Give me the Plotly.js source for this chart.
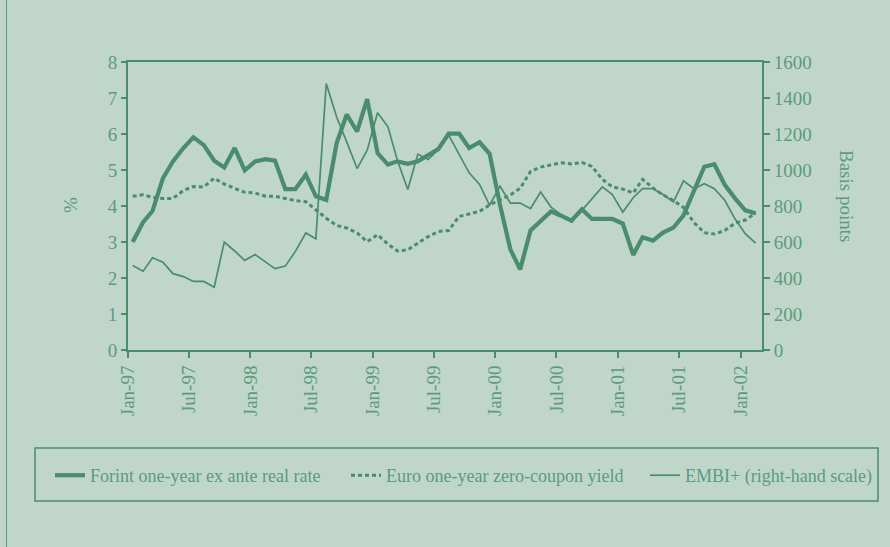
<!DOCTYPE html>
<html>
<head>
<meta charset="utf-8">
<script src="https://cdn.plot.ly/plotly-3.0.1.min.js"></script>
<style>
  html, body { margin: 0; padding: 0; background: #c1d6cb; }
  #wrap { position: relative; width: 890px; height: 547px; }
  #frame { position: absolute; left: 6px; top: 0; width: 1px; height: 547px; background: #5b9b7f; }
  #chart { position: absolute; left: 0; top: 0; width: 890px; height: 547px; }
</style>
</head>
<body>
<div id="wrap"><div id="chart"></div><div id="frame"></div></div>
<script>
// Monthly observations, Jan-97 .. Feb-02 (mid-month)
const months = [
  '1997-01-15','1997-02-15','1997-03-15','1997-04-15','1997-05-15','1997-06-15','1997-07-15','1997-08-15','1997-09-15','1997-10-15','1997-11-15','1997-12-15',
  '1998-01-15','1998-02-15','1998-03-15','1998-04-15','1998-05-15','1998-06-15','1998-07-15','1998-08-15','1998-09-15','1998-10-15','1998-11-15','1998-12-15',
  '1999-01-15','1999-02-15','1999-03-15','1999-04-15','1999-05-15','1999-06-15','1999-07-15','1999-08-15','1999-09-15','1999-10-15','1999-11-15','1999-12-15',
  '2000-01-15','2000-02-15','2000-03-15','2000-04-15','2000-05-15','2000-06-15','2000-07-15','2000-08-15','2000-09-15','2000-10-15','2000-11-15','2000-12-15',
  '2001-01-15','2001-02-15','2001-03-15','2001-04-15','2001-05-15','2001-06-15','2001-07-15','2001-08-15','2001-09-15','2001-10-15','2001-11-15','2001-12-15',
  '2002-01-15','2002-02-15'
];

// Forint one-year ex ante real rate (%)
const forint = [
  3.00,3.55,3.86,4.77,5.24,5.61,5.91,5.69,5.26,5.07,5.61,4.99,
  5.24,5.30,5.26,4.47,4.47,4.87,4.27,4.17,5.75,6.54,6.07,6.97,
  5.47,5.15,5.24,5.17,5.24,5.42,5.58,6.01,6.01,5.61,5.77,5.45,
  4.03,2.79,2.24,3.32,3.60,3.85,3.73,3.59,3.91,3.64,3.64,3.64,
  3.51,2.64,3.13,3.04,3.26,3.40,3.74,4.40,5.09,5.16,4.59,4.22,
  3.88,3.80
];

// Euro one-year zero-coupon yield (%)
const euro = [
  4.27,4.31,4.24,4.21,4.21,4.43,4.54,4.53,4.77,4.61,4.49,4.38,
  4.36,4.27,4.27,4.21,4.15,4.12,3.90,3.66,3.46,3.39,3.25,3.01,
  3.20,2.94,2.75,2.78,2.97,3.15,3.29,3.32,3.71,3.78,3.85,4.03,
  4.17,4.31,4.49,4.96,5.08,5.15,5.20,5.17,5.21,5.10,4.74,4.53,
  4.47,4.36,4.74,4.50,4.31,4.15,3.96,3.54,3.26,3.22,3.32,3.52,
  3.61,3.80
];

// EMBI+ spread (basis points, right-hand scale)
const embi = [
  470,438,512,488,424,408,381,381,349,600,550,498,
  530,488,452,466,548,650,618,1480,1294,1156,1008,1110,
  1318,1240,1054,892,1088,1058,1114,1194,1090,984,920,804,
  910,816,816,786,878,794,752,720,776,840,906,864,
  766,846,896,896,864,822,940,896,924,896,832,730,
  646,594
];

const tickDates = ['1997-01-01','1997-07-01','1998-01-01','1998-07-01','1999-01-01','1999-07-01','2000-01-01','2000-07-01','2001-01-01','2001-07-01','2002-01-01'];
const tickLabels = ['Jan-97','Jul-97','Jan-98','Jul-98','Jan-99','Jul-99','Jan-00','Jul-00','Jan-01','Jul-01','Jan-02'];

const seriesNames = ['Forint one-year ex ante real rate','Euro one-year zero-coupon yield','EMBI+ (right-hand scale)'];

const lineCol = '#4a8c6e';
const textCol = '#5b9b7f';
const fontFam = '"Liberation Serif", "Times New Roman", serif';

const traces = [
  { x: months, y: forint, name: seriesNames[0], type: 'scatter', mode: 'lines', legend: 'legend',
    line: { color: lineCol, width: 4.2 } },
  { x: months, y: euro, name: seriesNames[1], type: 'scatter', mode: 'lines', legend: 'legend2',
    line: { color: lineCol, width: 3, dash: '4px,3px' } },
  { x: months, y: embi, name: seriesNames[2], type: 'scatter', mode: 'lines', yaxis: 'y2', legend: 'legend3',
    line: { color: lineCol, width: 1.7 } }
];

const L = 128, R = 762, T = 62, B = 350, W = 890, H = 547;
const px = v => (v - L) / (R - L);
const py = v => (B - v) / (B - T);

function legendAt(xPix) {
  return {
    orientation: 'h',
    x: px(xPix), y: py(457), xanchor: 'left', yanchor: 'top',
    bgcolor: 'rgba(0,0,0,0)', borderwidth: 0,
    font: { family: fontFam, size: 18, color: textCol }
  };
}

const layout = {
  width: W, height: H,
  margin: { l: L, r: W - R, t: T, b: H - B, pad: 0 },
  paper_bgcolor: '#c1d6cb',
  plot_bgcolor: '#c1d6cb',
  font: { family: fontFam, color: textCol, size: 19 },
  showlegend: true,
  xaxis: {
    type: 'date',
    range: ['1997-01-01', '2002-03-06'],
    tickmode: 'array', tickvals: tickDates, ticktext: tickLabels,
    tickangle: -90,
    ticks: 'outside', ticklen: 6, tickwidth: 2, tickcolor: lineCol,
    showline: true, linecolor: lineCol, linewidth: 2, mirror: true,
    showgrid: false, zeroline: false,
    tickfont: { family: fontFam, size: 19, color: textCol }
  },
  yaxis: {
    range: [0, 8], dtick: 1, tick0: 0,
    ticks: 'outside', ticklen: 5, tickwidth: 2, tickcolor: lineCol,
    showline: true, linecolor: lineCol, linewidth: 2,
    showgrid: false, zeroline: false,
    tickfont: { family: fontFam, size: 19, color: textCol }
  },
  yaxis2: {
    range: [0, 1600], dtick: 200, tick0: 0,
    overlaying: 'y', side: 'right',
    ticks: 'outside', ticklen: 6, tickwidth: 2, tickcolor: lineCol,
    showline: true, linecolor: lineCol, linewidth: 2,
    showgrid: false, zeroline: false,
    tickfont: { family: fontFam, size: 19, color: textCol }
  },
  legend: legendAt(50),
  legend2: legendAt(346),
  legend3: legendAt(645),
  shapes: [
    { type: 'rect', xref: 'paper', yref: 'paper',
      x0: px(35), x1: px(878), y0: py(448), y1: py(501),
      line: { color: lineCol, width: 1.5 }, fillcolor: 'rgba(0,0,0,0)' }
  ],
  annotations: [
    { text: '%', xref: 'paper', yref: 'paper', x: px(70), y: py(205),
      showarrow: false, textangle: -90, xanchor: 'center', yanchor: 'middle',
      font: { family: fontFam, size: 19, color: textCol } },
    { text: 'Basis points', xref: 'paper', yref: 'paper', x: px(847), y: py(196),
      showarrow: false, textangle: 90, xanchor: 'center', yanchor: 'middle',
      font: { family: fontFam, size: 19, color: textCol } }
  ]
};

Plotly.newPlot('chart', traces, layout, { staticPlot: true, displayModeBar: false });
</script>
</body>
</html>
